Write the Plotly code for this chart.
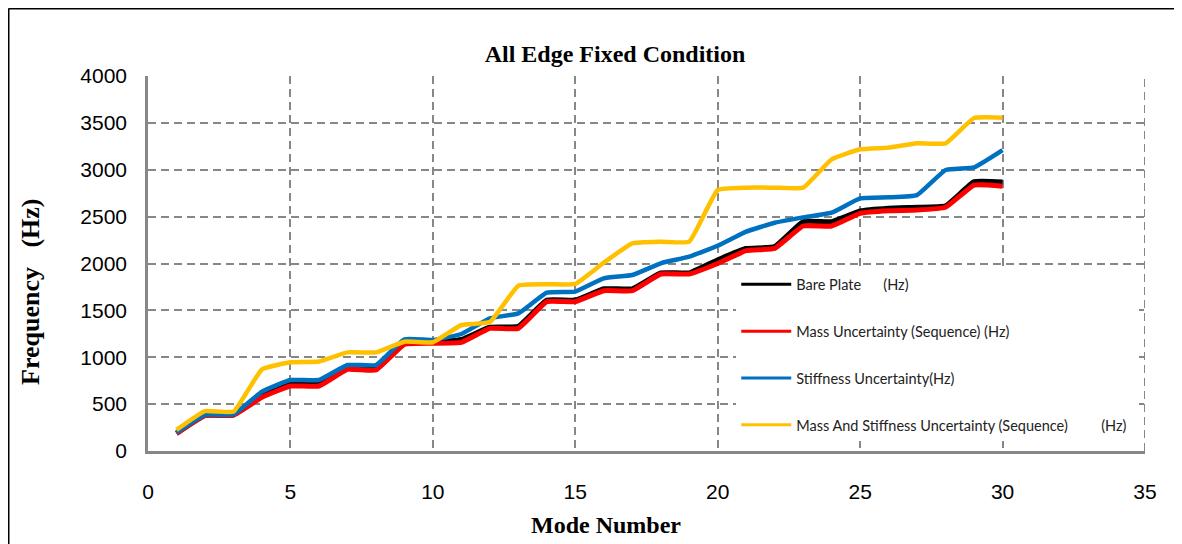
import plotly.graph_objects as go

modes = list(range(1, 31))

bare_plate = [190, 380, 385, 600, 720, 720, 890, 880, 1160, 1160,
              1190, 1320, 1330, 1610, 1610, 1730, 1730, 1900, 1900, 2040,
              2160, 2180, 2446, 2446, 2560, 2590, 2600, 2615, 2873, 2870]
mass_unc = [185, 378, 383, 573, 693, 693, 871, 864, 1138, 1149,
            1159, 1308, 1308, 1593, 1593, 1710, 1710, 1888, 1888, 2000,
            2137, 2162, 2400, 2400, 2535, 2563, 2570, 2600, 2837, 2825]
stiff_unc = [195, 385, 390, 633, 757, 757, 917, 917, 1191, 1184,
             1248, 1415, 1468, 1689, 1700, 1842, 1877, 2002, 2073, 2190,
             2340, 2435, 2492, 2542, 2695, 2706, 2730, 2997, 3026, 3210]
mass_stiff_unc = [225, 425, 420, 871, 946, 955, 1052, 1052, 1166, 1160,
                  1344, 1375, 1764, 1778, 1782, 2009, 2215, 2233, 2233, 2784,
                  2809, 2809, 2809, 3111, 3218, 3236, 3282, 3282, 3552, 3556]

names = [
    "Bare Plate\u00a0\u00a0\u00a0\u00a0\u00a0\u00a0(Hz)",
    "Mass Uncertainty (Sequence) (Hz)",
    "Stiffness Uncertainty(Hz)",
    "Mass And Stiffness Uncertainty (Sequence)" + "\u00a0" * 9 + "(Hz)\u00a0\u00a0",
]
colors = ["#000000", "#FF0000", "#0070C0", "#FFC000"]
widths = [5, 5, 4.5, 4.5]
series = [bare_plate, mass_unc, stiff_unc, mass_stiff_unc]

fig = go.Figure()
for i, (nm, col, w, ys) in enumerate(zip(names, colors, widths, series)):
    fig.add_trace(go.Scatter(
        x=modes, y=ys, mode="lines", name=nm, showlegend=False,
        line=dict(color=col, width=w, shape="spline", smoothing=0.35),
        legendgroup=f"g{i}",
    ))
# legend entries (thin sample lines, as in the reference legend)
for i, (nm, col) in enumerate(zip(names, colors)):
    fig.add_trace(go.Scatter(
        x=[None], y=[None], mode="lines", name=nm, showlegend=True,
        line=dict(color=col, width=3), legendgroup=f"g{i}",
    ))

grid_col = "#878787"
L, T = 140, 68
PW, PH = 997, 375

def px_x(fx):
    return (fx - L) / PW

def px_y(fy):
    return (T + PH - fy) / PH

fig.update_layout(
    width=1182, height=544,
    margin=dict(l=L, r=1182 - L - PW, t=T, b=544 - T - PH, autoexpand=False),
    paper_bgcolor="white", plot_bgcolor="white",
    showlegend=True,
    title=dict(text="<b>All Edge Fixed Condition</b>", x=607 / 1182, xanchor="center",
               y=1 - 46 / 544, yanchor="middle",
               font=dict(family="Liberation Serif", size=24, color="black")),
    legend=dict(x=0.59, y=0.487, xanchor="left", yanchor="top",
                bgcolor="white", borderwidth=0, tracegroupgap=25,
                traceorder="grouped", itemwidth=50,
                font=dict(family="Lato", size=14.5, color="#222222")),
    xaxis=dict(range=[0, 35], dtick=5, tick0=0,
               showgrid=True, gridcolor=grid_col, gridwidth=2, griddash="8px,5px",
               showline=True, linecolor=grid_col, linewidth=2.5,
               zeroline=False, ticks="", ticklabelstandoff=20,
               tickfont=dict(family="Liberation Sans", size=21, color="black")),
    yaxis=dict(range=[0, 4000], dtick=500, tick0=0,
               showgrid=True, gridcolor=grid_col, gridwidth=2, griddash="8px,5px",
               showline=True, linecolor=grid_col, linewidth=2.5,
               zeroline=False, ticks="", ticklabelstandoff=14,
               tickfont=dict(family="Liberation Sans", size=21, color="black")),
    annotations=[
        dict(text="<b>Mode Number</b>", xref="paper", yref="paper",
             x=px_x(598), y=px_y(517), xanchor="center", yanchor="middle",
             showarrow=False,
             font=dict(family="Liberation Serif", size=24, color="black")),
        dict(text="<b>Frequency\u00a0\u00a0\u00a0(Hz)</b>", xref="paper", yref="paper",
             x=px_x(22), y=px_y(284), xanchor="center", yanchor="middle",
             textangle=-90, showarrow=False,
             font=dict(family="Liberation Serif", size=26, color="black")),
    ],
    shapes=[
        # white box behind the legend, hiding the grid there
        dict(type="rect", xref="paper", yref="paper", layer="between",
             x0=px_x(720), x1=px_x(1128), y0=px_y(435), y1=px_y(255),
             fillcolor="white", line=dict(width=0)),
        # dashed grid line at the right edge (x = 35)
        dict(type="line", xref="x", yref="paper", x0=35, x1=35, y0=0, y1=1,
             layer="between", line=dict(color=grid_col, width=2, dash="8px,5px")),
        # outer chart frame
        dict(type="line", xref="paper", yref="paper", x0=px_x(0.5), x1=px_x(1200),
             y0=px_y(0.5), y1=px_y(0.5), line=dict(color="black", width=2)),
        dict(type="line", xref="paper", yref="paper", x0=px_x(0.5), x1=px_x(0.5),
             y0=px_y(0.5), y1=px_y(560), line=dict(color="black", width=2)),
    ],
)

fig.write_html("out.html")
